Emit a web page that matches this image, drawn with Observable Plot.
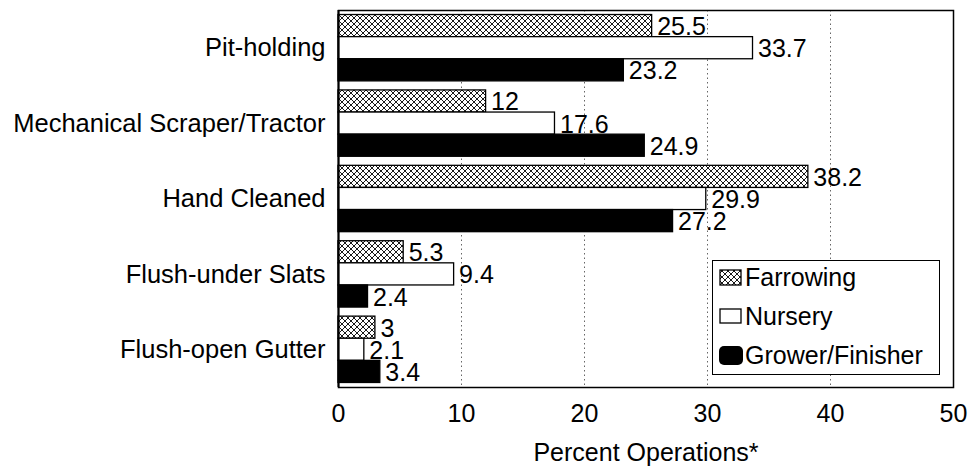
<!DOCTYPE html>
<html>
<head>
<meta charset="utf-8">
<script src="https://cdn.jsdelivr.net/npm/d3@7"></script>
<script src="https://cdn.jsdelivr.net/npm/@observablehq/plot@0.6"></script>
<style>
  html, body { margin: 0; padding: 0; background: #fff; }
  #wrap { position: relative; width: 970px; height: 469px; font-family: "Liberation Sans", Arial, sans-serif; }
  #legend { position: absolute; left: 712px; top: 260px; width: 228px; height: 115px; border: 1.5px solid #000; background: #fff; box-sizing: border-box; }
  .row { position: absolute; left: 6px; height: 26px; display: flex; align-items: center; font-size: 25px; color: #000; line-height: 1; white-space: nowrap; }
  .row svg { margin-right: 1px; }
</style>
</head>
<body>
<svg width="0" height="0" style="position:absolute">
  <defs>
    <pattern id="xhatch" patternUnits="userSpaceOnUse" width="6" height="6">
      <rect width="6" height="6" fill="#fff"></rect>
      <path d="M0,0L6,6M6,0L0,6M-1,5L1,7M5,-1L7,1" stroke="#000" stroke-width="0.9"></path>
    </pattern>
  </defs>
</svg>
<div id="wrap">
  <div id="chart"></div>
  <div id="legend"></div>
</div>
<script>
const categories = ["Pit-holding", "Mechanical Scraper/Tractor", "Hand Cleaned", "Flush-under Slats", "Flush-open Gutter"];
const seriesNames = ["Farrowing", "Nursery", "Grower/Finisher"];
const farrowing = [25.5, 12, 38.2, 5.3, 3];
const nursery = [33.7, 17.6, 29.9, 9.4, 2.1];
const grower = [23.2, 24.9, 27.2, 2.4, 3.4];
const xTicks = [0, 10, 20, 30, 40, 50];

const seriesValues = [farrowing, nursery, grower];
const fills = ["url(#xhatch)", "#fff", "#000"];
const outer = 0.06, bw = 0.88 / 3;

const rows = [];
categories.forEach((c, i) => {
  seriesValues.forEach((vals, k) => {
    const y1 = i + outer + k * bw;
    rows.push({category: c, series: seriesNames[k], value: vals[i], y1, y2: y1 + bw, ym: y1 + bw / 2, fill: fills[k]});
  });
});

const chart = Plot.plot({
  width: 970,
  height: 469,
  marginTop: 10,
  marginBottom: 82,
  marginLeft: 338,
  marginRight: 17,
  style: {fontFamily: "'Liberation Sans', Arial, sans-serif", fontSize: "25px", color: "#000", background: "transparent"},
  x: {domain: [0, 50]},
  y: {domain: [0, categories.length], reverse: true},
  marks: [
    Plot.gridX(xTicks.slice(1, -1), {stroke: "#000", strokeOpacity: 0.6, strokeDasharray: "1.5,3", strokeWidth: 1}),
    Plot.rectX(rows, {x1: 0, x2: "value", y1: "y1", y2: "y2", fill: "fill", stroke: "#000", strokeWidth: 1.3}),
    Plot.text(rows, {x: "value", y: "ym", text: d => String(d.value), textAnchor: "start", dx: 5, dy: 1, fontSize: 25, fill: "#000"}),
    Plot.frame({stroke: "#000", strokeWidth: 1.5}),
    Plot.ruleX([0], {stroke: "#000", strokeWidth: 2}),
    Plot.axisX(xTicks, {tickSize: 0, tickPadding: 17, fontSize: 25, label: null}),
    Plot.axisX({ticks: [], tickSize: 0, label: "Percent Operations*", labelAnchor: "center", labelOffset: 73, labelArrow: "none", fontSize: 25}),
    Plot.axisY(categories.map((c, i) => i + 0.5), {tickFormat: d => categories[Math.floor(d)], tickSize: 0, tickPadding: 13, fontSize: 25.5, label: null})
  ]
});
document.getElementById("chart").appendChild(chart);

// legend
const legend = d3.select("#legend");
const swatch = [
  (s) => s.append("rect").attr("x", 1).attr("y", 2).attr("width", 21).attr("height", 15).attr("fill", "url(#xhatch)").attr("stroke", "#000").attr("stroke-width", 1.3),
  (s) => s.append("rect").attr("x", 1).attr("y", 2).attr("width", 21).attr("height", 14).attr("fill", "#fff").attr("stroke", "#000").attr("stroke-width", 1.3),
  (s) => s.append("rect").attr("x", 0).attr("y", 0).attr("width", 24).attr("height", 19).attr("rx", 5).attr("fill", "#000")
];
const rowCenters = [18, 57, 96];
seriesNames.forEach((name, k) => {
  const row = legend.append("div").attr("class", "row").style("top", (rowCenters[k] - 13 - 1.5) + "px");
  const s = row.append("svg").attr("width", 25).attr("height", 19);
  swatch[k](s);
  row.append("span").text(name);
});
</script>
</body>
</html>
